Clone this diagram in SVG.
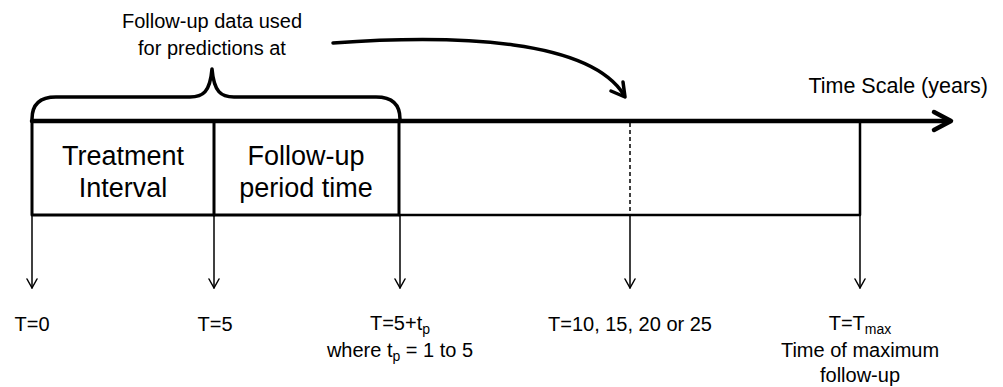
<svg xmlns="http://www.w3.org/2000/svg" width="1003" height="387" viewBox="0 0 1003 387">
<defs>
<style>
text{font-family:"Liberation Sans",Arial,sans-serif;fill:#000;text-anchor:middle}
.s{font-size:20px}
.b{font-size:27px}
.ln{stroke:#000;fill:none;stroke-linecap:round;stroke-linejoin:round}
.thin{stroke-width:1.5}
</style>
<marker id="ah" viewBox="0 0 12 12" refX="10" refY="6" markerWidth="12" markerHeight="12" markerUnits="userSpaceOnUse" orient="auto">
<path d="M1,1 L10,6 L1,11" fill="none" stroke="#000" stroke-width="1.5" stroke-linecap="round" stroke-linejoin="round"/>
</marker>
</defs>
<rect width="1003" height="387" fill="#fff"/>
<g id="axis">
<line class="ln" x1="32" y1="121" x2="950" y2="121" stroke-width="4.5"/>
<path class="ln" d="M934,112 L951,121 L934,130" stroke-width="4.5"/>
<text x="988" y="93" style="text-anchor:end;font-size:21.5px">Time Scale (years)</text>
</g>
<g id="brace">
<path class="ln" stroke-width="3.5" d="M32,119 C32,104 40,97 56,97 L190,97 C203,97 210,92 212,69 C214,92 221,97 234,97 L376,97 C392,97 400,104 400,119"/>
<text class="s" x="212" y="28">Follow-up data used</text>
<text class="s" x="212" y="55">for predictions at</text>
</g>
<g id="treatment">
<path class="ln" stroke-width="3" d="M32,121 L32,215 L214,215 L214,121"/>
<text class="b" x="123" y="165">Treatment</text>
<text class="b" x="123" y="197">Interval</text>
</g>
<g id="followup">
<path class="ln" stroke-width="3" d="M214,215 L399,215 L399,121"/>
<text class="b" x="306" y="165">Follow-up</text>
<text class="b" x="306" y="197">period time</text>
</g>
<g id="rest">
<path class="ln" stroke-width="2.5" d="M399,215 L860,215 L860,121"/>
<line class="ln thin" x1="630" y1="123" x2="630" y2="214" stroke-dasharray="4 3" style="stroke-linecap:butt"/>
</g>
<g id="connectors">
<path class="ln" stroke-width="3.5" d="M333,43 C460,34 590,40 624,95"/>
<path class="ln" stroke-width="3.5" d="M611,91 L625,97 L623,82"/>
<line class="ln thin" x1="32" y1="216" x2="32" y2="288" marker-end="url(#ah)"/>
<line class="ln thin" x1="214" y1="216" x2="214" y2="288" marker-end="url(#ah)"/>
<line class="ln thin" x1="400" y1="216" x2="400" y2="288" marker-end="url(#ah)"/>
<line class="ln thin" x1="630" y1="215" x2="630" y2="288" marker-end="url(#ah)"/>
<line class="ln thin" x1="860" y1="216" x2="860" y2="288" marker-end="url(#ah)"/>
</g>
<g id="labels">
<text class="s" x="32" y="331">T=0</text>
<text class="s" x="215" y="331">T=5</text>
<text class="s" x="400" y="330">T=5+t<tspan dy="4" font-size="14">p</tspan></text>
<text class="s" x="400" y="357">where t<tspan dy="4" font-size="14">p</tspan><tspan dy="-4"> = 1 to 5</tspan></text>
<text class="s" x="630" y="331">T=10, 15, 20 or 25</text>
<text class="s" x="860" y="330">T=T<tspan dy="4" font-size="14">max</tspan></text>
<text class="s" x="860" y="357">Time of maximum</text>
<text class="s" x="860" y="382">follow-up</text>
</g>
</svg>
